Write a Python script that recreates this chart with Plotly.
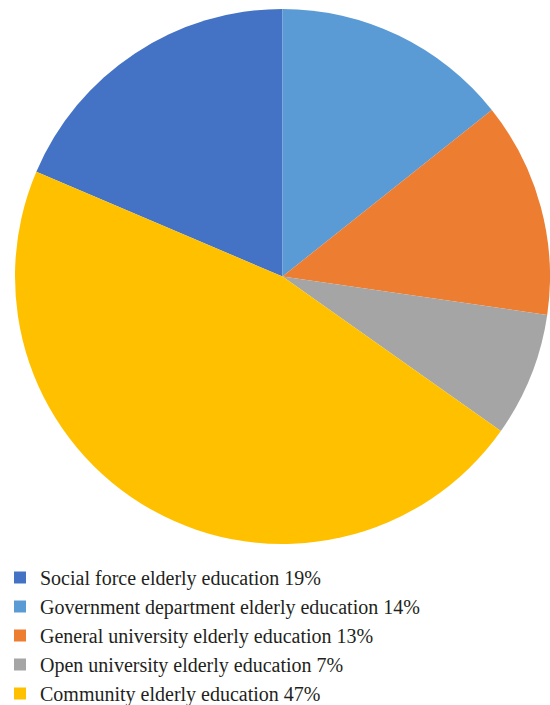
import plotly.graph_objects as go

categories = [
    "Social force elderly education",
    "Government department elderly education",
    "General university elderly education",
    "Open university elderly education",
    "Community elderly education",
]
# slice sizes (percent)
values = [18.6, 14.3, 13.0, 7.5, 46.6]
# percentages printed in the legend
legend_pct = [19, 14, 13, 7, 47]
colors = ["#4472C4", "#5B9BD5", "#ED7D31", "#A5A5A5", "#FFC000"]

labels = [f"{c} {p}%" for c, p in zip(categories, legend_pct)]

W, H = 550, 705
fig = go.Figure(go.Pie(
    labels=labels,
    values=values,
    sort=False,
    direction="clockwise",
    rotation=-values[0] / sum(values) * 360,
    marker=dict(colors=colors, line=dict(width=0)),
    textinfo="none",
    hoverinfo="label",
    domain=dict(x=[15 / W, 550 / W], y=[1 - 544 / H, 1 - 9 / H]),
))

fig.update_layout(
    width=W, height=H,
    margin=dict(l=0, r=0, t=0, b=0, autoexpand=False),
    paper_bgcolor="white",
    font=dict(family="Liberation Serif"),
    showlegend=True,
    legend=dict(
        x=0, y=-8 / H, xanchor="left", yanchor="bottom",
        font=dict(family="Liberation Serif", size=20, color="#231f20"),
        itemwidth=30,
        tracegroupgap=0,
        bgcolor="rgba(0,0,0,0)",
    ),
)

fig.write_html("out.html")
